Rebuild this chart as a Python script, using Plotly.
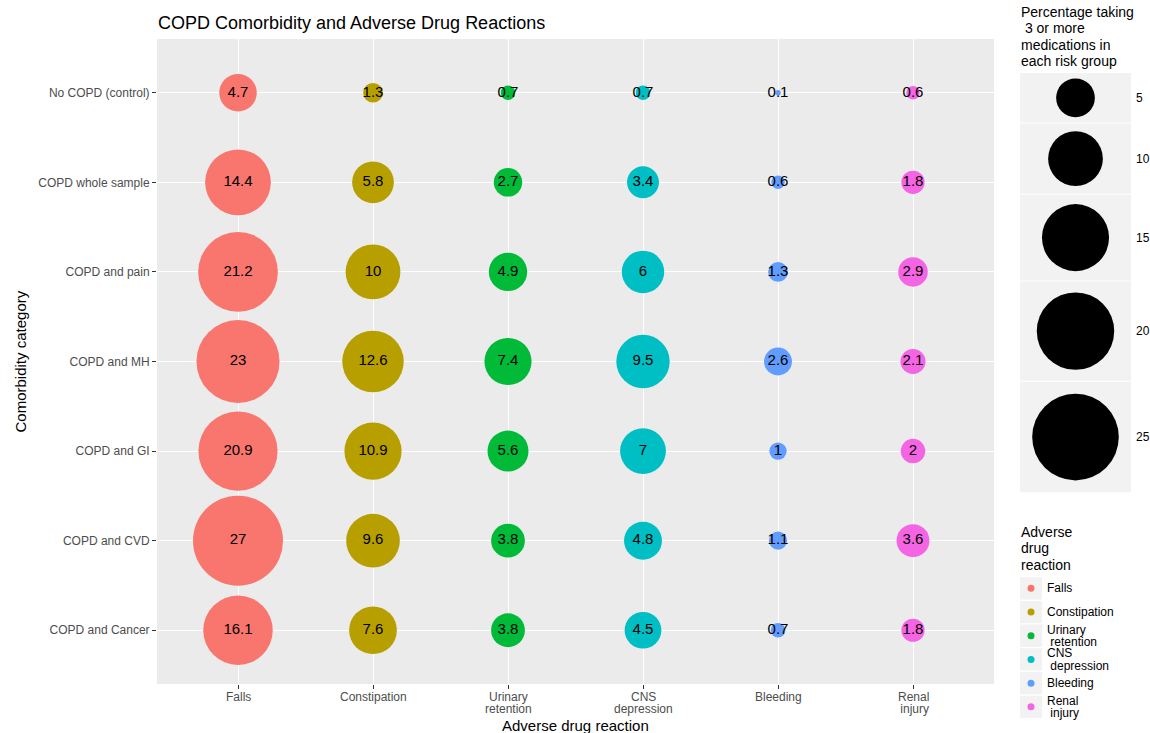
import math
import plotly.graph_objects as go

# ---------------- data ----------------
comorbidity = ["No COPD (control)", "COPD whole sample", "COPD and pain", "COPD and MH",
               "COPD and GI", "COPD and CVD", "COPD and Cancer"]
reactions = ["Falls", "Constipation", "Urinary retention", "CNS depression", "Bleeding", "Renal injury"]
reaction_ticks = ["Falls", "Constipation", "Urinary\nretention", "CNS\ndepression", "Bleeding", "Renal\n injury"]
legend_labels = ["Falls", "Constipation", "Urinary\n retention", "CNS\n depression", "Bleeding", "Renal\n injury"]

falls = [4.7, 14.4, 21.2, 23, 20.9, 27, 16.1]
constipation = [1.3, 5.8, 10, 12.6, 10.9, 9.6, 7.6]
urinary = [0.7, 2.7, 4.9, 7.4, 5.6, 3.8, 3.8]
cns = [0.7, 3.4, 6, 9.5, 7, 4.8, 4.5]
bleeding = [0.1, 0.6, 1.3, 2.6, 1, 1.1, 0.7]
renal = [0.6, 1.8, 2.9, 2.1, 2, 3.6, 1.8]
series = [falls, constipation, urinary, cns, bleeding, renal]

size_breaks = [5, 10, 15, 20, 25]
size_title = ["Percentage taking", " 3 or more", "medications in", "each risk group"]
color_title = ["Adverse", "drug", "reaction"]

colors = ["#F8766D", "#B79F00", "#00BA38", "#00BFC4", "#619CFF", "#F564E3"]

# ---------------- style ----------------
W, H = 1150, 733
FONT = "Liberation Sans, Arial, sans-serif"
MAXD = 90.0  # pixel diameter for the largest value
vmax = max(max(s) for s in series)
sizeref = 2.0 * vmax / MAXD ** 2


def px(x):
    return x / W


def py(y):
    return 1 - y / H


def nb(s):
    # keep a leading space visible
    return ("&nbsp;" + s[1:]) if s.startswith(" ") else s


fig = go.Figure()

# ---------------- main bubbles ----------------
for name, vals, col in zip(reactions, series, colors):
    fig.add_trace(go.Scatter(
        x=[name] * len(vals), y=comorbidity,
        mode="markers+text",
        marker=dict(size=vals, sizemode="area", sizeref=sizeref, color=col,
                    line=dict(width=0), opacity=1),
        text=[f"{v:g}" for v in vals], textposition="middle center",
        textfont=dict(family=FONT, size=15, color="black"),
        showlegend=False, hoverinfo="skip", xaxis="x", yaxis="y",
    ))

# ---------------- size legend ----------------
diam = [MAXD * math.sqrt(v / vmax) for v in size_breaks]
heights = [1.28 * d for d in diam]
gap = 1.0
tops, centers = [], []
cur = 0.0
for h in heights:
    tops.append(cur)
    centers.append(cur + h / 2)
    cur += h + gap
total = cur - gap
size_top = 73

# main panel background (plot_bgcolor is white so legend subplots stay white)
shapes = [
    dict(type="rect", xref="x domain", yref="y domain", x0=0, x1=1, y0=0, y1=1,
         fillcolor="#EBEBEB", line=dict(width=0), layer="below"),
]
for t, h in zip(tops, heights):
    shapes.append(dict(type="rect", xref="x2", yref="y2", x0=0, x1=111, y0=t, y1=t + h,
                       fillcolor="#F2F2F2", line=dict(width=0), layer="below"))

fig.add_trace(go.Scatter(
    x=[55.5] * len(size_breaks), y=centers, mode="markers",
    marker=dict(size=size_breaks, sizemode="area", sizeref=sizeref, color="black",
                line=dict(width=0), opacity=1),
    showlegend=False, hoverinfo="skip", xaxis="x2", yaxis="y2",
))

annotations = []
for v, c in zip(size_breaks, centers):
    annotations.append(dict(x=114, y=c, xref="x2", yref="y2", text=str(v), showarrow=False,
                            xanchor="left", yanchor="middle",
                            font=dict(family=FONT, size=12, color="black")))

for i, line in enumerate(size_title):
    annotations.append(dict(x=px(1019), y=py(12 + 16.3 * i), xref="paper", yref="paper", text=nb(line),
                            showarrow=False, xanchor="left", yanchor="middle",
                            font=dict(family=FONT, size=14, color="black")))

# ---------------- colour legend ----------------
row_top, row_h = 576.5, 23.7
n = len(reactions)
for i in range(n):
    shapes.append(dict(type="rect", xref="x3", yref="y3", x0=0, x1=22, y0=i + 0.03, y1=i + 0.97,
                       fillcolor="#F2F2F2", line=dict(width=0), layer="below"))

fig.add_trace(go.Scatter(
    x=[11] * n, y=[i + 0.5 for i in range(n)], mode="markers",
    marker=dict(size=7, color=colors, line=dict(width=0), opacity=1),
    showlegend=False, hoverinfo="skip", xaxis="x3", yaxis="y3",
))

for i, lab in enumerate(legend_labels):
    parts = lab.split("\n")
    k = len(parts)
    for j, part in enumerate(parts):
        off = (j - (k - 1) / 2) * 12.5 / row_h
        annotations.append(dict(x=25, y=i + 0.5 + off, xref="x3", yref="y3", text=nb(part),
                                showarrow=False, xanchor="left", yanchor="middle",
                                font=dict(family=FONT, size=12, color="black")))

for i, line in enumerate(color_title):
    annotations.append(dict(x=px(1019), y=py(532 + 16.3 * i), xref="paper", yref="paper", text=line,
                            showarrow=False, xanchor="left", yanchor="middle",
                            font=dict(family=FONT, size=14, color="black")))

# ---------------- x tick labels (tight two-line spacing like ggplot) ----------------
for cat, lab in zip(reactions, reaction_ticks):
    for j, part in enumerate(lab.split("\n")):
        annotations.append(dict(x=cat, y=py(696.5 + 12.8 * j), xref="x", yref="paper", text=nb(part),
                                showarrow=False, xanchor="center", yanchor="middle",
                                font=dict(family=FONT, size=12, color="#4D4D4D")))

# ---------------- titles ----------------
annotations.append(dict(x=px(156), y=py(23), xref="paper", yref="paper",
                        text="COPD Comorbidity and Adverse Drug Reactions", showarrow=False,
                        xanchor="left", yanchor="middle", font=dict(family=FONT, size=18, color="black")))
annotations.append(dict(x=px(575.5), y=py(725), xref="paper", yref="paper",
                        text="Adverse drug reaction", showarrow=False,
                        xanchor="center", yanchor="middle", font=dict(family=FONT, size=15, color="black")))
annotations.append(dict(x=px(20), y=py(361.5), xref="paper", yref="paper",
                        text="Comorbidity category", showarrow=False, textangle=-90,
                        xanchor="center", yanchor="middle", font=dict(family=FONT, size=15, color="black")))

fig.update_layout(
    width=W, height=H,
    margin=dict(l=0, r=0, t=0, b=0),
    paper_bgcolor="white",
    plot_bgcolor="white",
    font=dict(family=FONT, color="#4D4D4D"),
    xaxis=dict(domain=[px(157), px(994)], type="category", categoryorder="array", categoryarray=reactions,
               range=[-0.6, len(reactions) - 1 + 0.6], showticklabels=False,
               showgrid=True, gridcolor="white", gridwidth=1.1,
               zeroline=False, ticks="outside", ticklen=4, tickcolor="#333333", tickwidth=1,
               showline=False, fixedrange=True),
    yaxis=dict(domain=[py(684), py(39)], type="category", categoryorder="array", categoryarray=comorbidity,
               range=[len(comorbidity) - 1 + 0.6, -0.6], showgrid=True, gridcolor="white", gridwidth=1.1,
               zeroline=False, ticks="outside", ticklen=4, tickcolor="#333333", tickwidth=1,
               tickfont=dict(family=FONT, size=12, color="#4D4D4D"), showline=False, fixedrange=True),
    xaxis2=dict(domain=[px(1020), px(1150)], range=[0, 130], visible=False, fixedrange=True, anchor="y2"),
    yaxis2=dict(domain=[py(size_top + total), py(size_top)], range=[total, 0], visible=False, fixedrange=True,
                anchor="x2"),
    xaxis3=dict(domain=[px(1020), px(1150)], range=[0, 130], visible=False, fixedrange=True, anchor="y3"),
    yaxis3=dict(domain=[py(row_top + n * row_h), py(row_top)], range=[n, 0], visible=False, fixedrange=True,
                anchor="x3"),
    shapes=shapes,
    annotations=annotations,
)

fig.write_html("out.html", config={"displayModeBar": False},
               post_script="document.body.style.margin='0';document.body.style.overflow='hidden';")
